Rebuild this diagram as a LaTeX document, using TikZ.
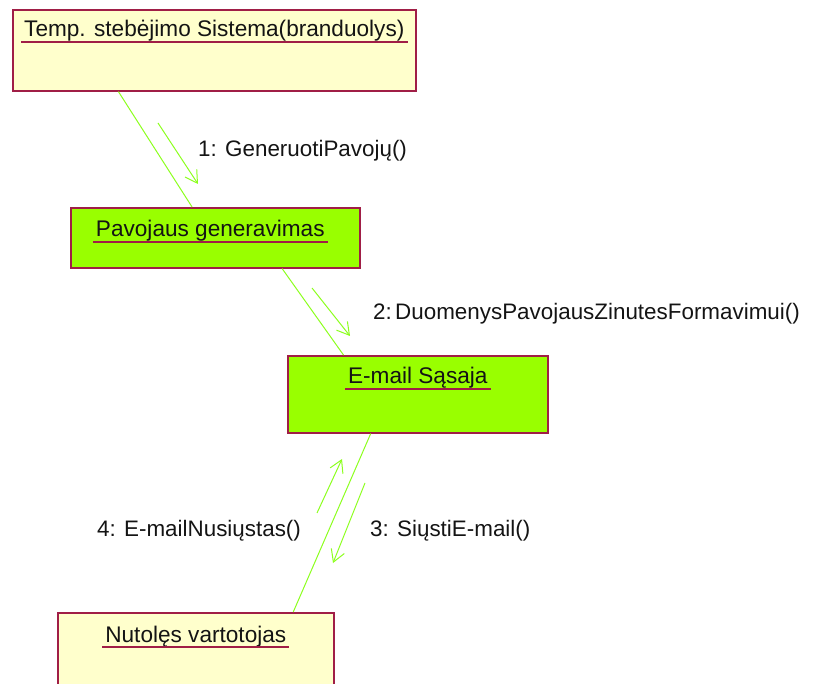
\documentclass[tikz,border=0pt]{standalone}
\usepackage{fontspec}
\setmainfont{Liberation Sans}
\usetikzlibrary{arrows.meta,calc}
\definecolor{lnk}{RGB}{140,255,30}
\definecolor{bord}{RGB}{160,30,70}
\definecolor{yfill}{RGB}{255,255,204}
\definecolor{gfill}{RGB}{153,255,0}
\definecolor{txt}{RGB}{20,20,20}
\begin{document}
\begin{tikzpicture}[x=1pt,y=-1pt,
  objbox/.style={draw=bord,line width=1.6pt,anchor=north west,inner sep=0pt},
  ybox/.style={objbox,fill=yfill},
  gbox/.style={objbox,fill=gfill},
  ttl/.style={anchor=base,inner sep=0pt,text=txt,font=\fontsize{22.6}{27}\selectfont},
  lbl/.style={anchor=base west,inner sep=0pt,text=txt,font=\fontsize{22.4}{27}\selectfont},
  uline/.style={draw=bord,line width=1.3pt},
  link/.style={draw=lnk,line width=1pt},
  msg/.style={draw=lnk,line width=1pt,-{Straight Barb[length=12pt,width=14pt,line width=1pt]}}
]
\useasboundingbox (0,0) rectangle (814,684);
% boxes
\node[ybox,minimum width=403pt,minimum height=81pt] (b1) at (12,9) {};
\node[gbox,minimum width=289pt,minimum height=60pt] (b2) at (70,207) {};
\node[gbox,minimum width=260pt,minimum height=77pt] (b3) at (287,355) {};
\node[ybox,minimum width=276pt,minimum height=90pt] (b4) at (57,612) {};
% titles
\node[ttl] (t1) at ($(b1.north)+(0,28)$) {Temp. stebėjimo Sistema(branduolys)};
\node[ttl] (t2) at ($(b2.north)+(-5,30)$) {Pavojaus generavimas};
\node[ttl] (t3) at ($(b3.north)+(0,29)$) {E-mail Sąsaja};
\node[ttl] (t4) at ($(b4.north)+(0,30)$) {Nutolęs vartotojas};
\foreach \t in {t1,t2,t3,t4}{
  \draw[uline] ([xshift=-3pt,yshift=-5pt]\t.base west) -- ([xshift=3pt,yshift=-5pt]\t.base east);
}
% links
\draw[link] ($(b1.south west)!0.263!(b1.south east)$) -- ($(b2.north west)!0.42!(b2.north east)$);
\draw[link] ($(b2.south west)!0.73!(b2.south east)$) -- ($(b3.north west)!0.216!(b3.north east)$);
\draw[link] ($(b3.south west)!0.32!(b3.south east)$) -- ($(b4.north west)!0.851!(b4.north east)$);
% messages
\coordinate (m1s) at (158,123); \coordinate (m1e) at (198,184);
\coordinate (m2s) at (312,288); \coordinate (m2e) at (350,336);
\coordinate (m3s) at (365,483); \coordinate (m3e) at (333,563);
\coordinate (m4s) at (317,513); \coordinate (m4e) at (342,459);
\draw[msg] (m1s) -- (m1e);
\draw[msg] (m2s) -- (m2e);
\draw[msg] (m3s) -- (m3e);
\draw[msg] (m4s) -- (m4e);
\node[lbl] (l1) at (198,157) {1: GeneruotiPavojų()};
\node[lbl] (l2) at (373,320) {2:\hspace{0.15em}DuomenysPavojausZinutesFormavimui()};
\node[lbl] (l3) at (370,536) {3: SiųstiE-mail()};
\node[lbl] (l4) at (97,536) {4: E-mailNusiųstas()};
\end{tikzpicture}
\end{document}
